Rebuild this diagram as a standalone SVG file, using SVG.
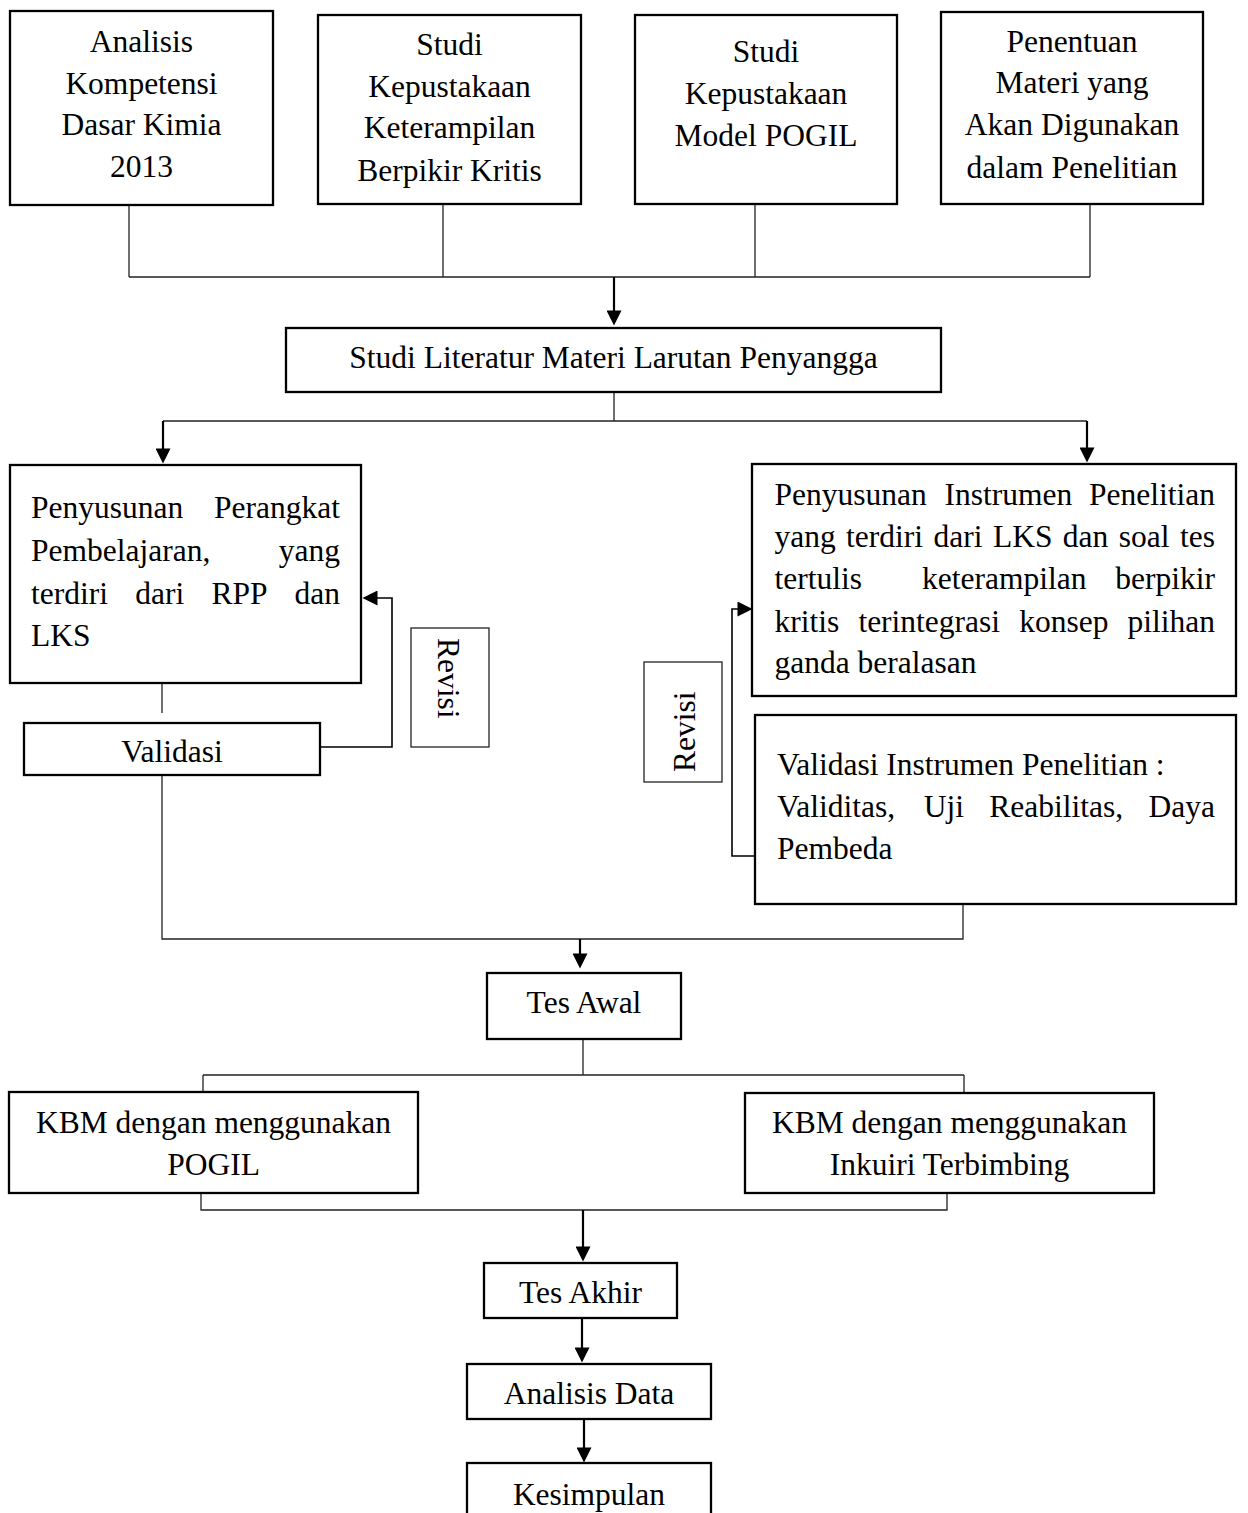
<svg xmlns="http://www.w3.org/2000/svg" width="1248" height="1513" viewBox="0 0 1248 1513">
<style>
text{font-family:"Liberation Serif","Times New Roman",serif;font-size:31.5px;fill:#000}
.c{text-anchor:middle}
.e{text-anchor:end}
.box{fill:#fff;stroke:#000;stroke-width:2.3}
.thin{fill:#fff;stroke:#222;stroke-width:1.3}
.ln{fill:none;stroke:#222;stroke-width:1.3}
.ar{fill:none;stroke:#000;stroke-width:2.2;marker-end:url(#ah)}
</style>
<defs>
<marker id="ah" viewBox="0 0 10 10" refX="7" refY="5" markerWidth="16" markerHeight="15" markerUnits="userSpaceOnUse" orient="auto">
<path d="M0,0 L10,5 L0,10 z" fill="#000"/>
</marker>
</defs>
<rect width="1248" height="1513" fill="#fff"/>
<g id="connectors">
<path class="ln" d="M129,205 V277 M443,204 V277 M755,204 V277 M1090,204 V277 M129,277 H1090"/>
<path class="ar" d="M614,277 V321"/>
<path class="ln" d="M614,392 V421 M163,421 H1087"/>
<path class="ar" d="M163,421 V459"/>
<path class="ar" d="M1087,421 V458"/>
<path class="ln" d="M162,683 V713"/>
<path class="ar" style="stroke-width:1.6" d="M320,747 H392 V598 H367"/>
<path class="ar" style="stroke-width:1.6" d="M755,856 H732 V609 H748"/>
<path class="ln" d="M162,775 V939 H963 V904"/>
<path class="ar" d="M580,939 V964"/>
<path class="ln" d="M583,1039 V1075 M203,1075 H964 M203,1075 V1092 M964,1075 V1093"/>
<path class="ln" d="M201,1193 V1210 H947 V1193"/>
<path class="ar" d="M583,1210 V1257"/>
<path class="ar" d="M582,1318 V1358"/>
<path class="ar" d="M584,1419 V1458"/>
</g>
<g id="n-analisis">
<rect class="box" x="10" y="11" width="263" height="194"/>
<text class="c" x="141.5" y="52">Analisis</text>
<text class="c" x="141.5" y="94">Kompetensi</text>
<text class="c" x="141.5" y="135">Dasar Kimia</text>
<text class="c" x="141.5" y="177">2013</text>
</g>
<g id="n-studi-kk">
<rect class="box" x="318" y="15" width="263" height="189"/>
<text class="c" x="449.5" y="55">Studi</text>
<text class="c" x="449.5" y="97">Kepustakaan</text>
<text class="c" x="449.5" y="138">Keterampilan</text>
<text class="c" x="449.5" y="181">Berpikir Kritis</text>
</g>
<g id="n-studi-pogil">
<rect class="box" x="635" y="15" width="262" height="189"/>
<text class="c" x="766" y="62">Studi</text>
<text class="c" x="766" y="104">Kepustakaan</text>
<text class="c" x="766" y="146">Model POGIL</text>
</g>
<g id="n-penentuan">
<rect class="box" x="941" y="12" width="262" height="192"/>
<text class="c" x="1072" y="52">Penentuan</text>
<text class="c" x="1072" y="93">Materi yang</text>
<text class="c" x="1072" y="135">Akan Digunakan</text>
<text class="c" x="1072" y="178">dalam Penelitian</text>
</g>
<g id="n-literatur">
<rect class="box" x="286" y="328" width="655" height="64"/>
<text class="c" x="613.5" y="368">Studi Literatur Materi Larutan Penyangga</text>
</g>
<g id="n-perangkat">
<rect class="box" x="10" y="465" width="351" height="218"/>
<text x="31" y="518">Penyusunan</text><text class="e" x="340" y="518">Perangkat</text>
<text x="31" y="561">Pembelajaran,</text><text class="e" x="340" y="561">yang</text>
<text x="31" y="604">terdiri</text><text x="135.2" y="604">dari</text><text x="211.4" y="604">RPP</text><text class="e" x="340" y="604">dan</text>
<text x="31" y="646">LKS</text>
</g>
<g id="n-validasi">
<rect class="box" x="24" y="723" width="296" height="52"/>
<text class="c" x="172" y="762">Validasi</text>
</g>
<g id="n-revisi-left">
<rect class="thin" x="411" y="628" width="78" height="119"/>
<text transform="translate(438,638) rotate(90)" x="0" y="0">Revisi</text>
</g>
<g id="n-instrumen">
<rect class="box" x="752" y="464" width="484" height="232"/>
<text x="774.5" y="505">Penyusunan</text><text x="944.5" y="505">Instrumen</text><text class="e" x="1215" y="505">Penelitian</text>
<text x="774.5" y="547">yang</text><text x="846.1" y="547">terdiri</text><text x="933.5" y="547">dari</text><text x="992.9" y="547">LKS</text><text x="1062.8" y="547">dan</text><text x="1118.7" y="547">soal</text><text class="e" x="1215" y="547">tes</text>
<text x="774.5" y="589">tertulis</text><text x="922" y="589">keterampilan</text><text class="e" x="1215" y="589">berpikir</text>
<text x="774.5" y="632">kritis</text><text x="858.4" y="632">terintegrasi</text><text x="1019.2" y="632">konsep</text><text class="e" x="1215" y="632">pilihan</text>
<text x="774.5" y="673">ganda beralasan</text>
</g>
<g id="n-revisi-right">
<rect class="thin" x="644" y="662" width="78" height="120"/>
<text transform="translate(695,772) rotate(-90)" x="0" y="0">Revisi</text>
</g>
<g id="n-validasi-instrumen">
<rect class="box" x="755" y="715" width="481" height="189"/>
<text x="777" y="775">Validasi Instrumen Penelitian :</text>
<text x="777" y="817">Validitas,</text><text x="923.8" y="817">Uji</text><text x="989.3" y="817">Reabilitas,</text><text class="e" x="1215" y="817">Daya</text>
<text x="777" y="859">Pembeda</text>
</g>
<g id="n-tes-awal">
<rect class="box" x="487" y="973" width="194" height="66"/>
<text class="c" x="584" y="1013">Tes Awal</text>
</g>
<g id="n-kbm-pogil">
<rect class="box" x="9" y="1092" width="409" height="101"/>
<text class="c" x="213.5" y="1133">KBM dengan menggunakan</text>
<text class="c" x="213.5" y="1175">POGIL</text>
</g>
<g id="n-kbm-inkuiri">
<rect class="box" x="745" y="1093" width="409" height="100"/>
<text class="c" x="949.5" y="1133">KBM dengan menggunakan</text>
<text class="c" x="949.5" y="1175">Inkuiri Terbimbing</text>
</g>
<g id="n-tes-akhir">
<rect class="box" x="484" y="1263" width="193" height="55"/>
<text class="c" x="580.5" y="1303">Tes Akhir</text>
</g>
<g id="n-analisis-data">
<rect class="box" x="467" y="1364" width="244" height="55"/>
<text class="c" x="589" y="1404">Analisis Data</text>
</g>
<g id="n-kesimpulan">
<rect class="box" x="467" y="1463" width="244" height="80"/>
<text class="c" x="589" y="1505">Kesimpulan</text>
</g>
</svg>
